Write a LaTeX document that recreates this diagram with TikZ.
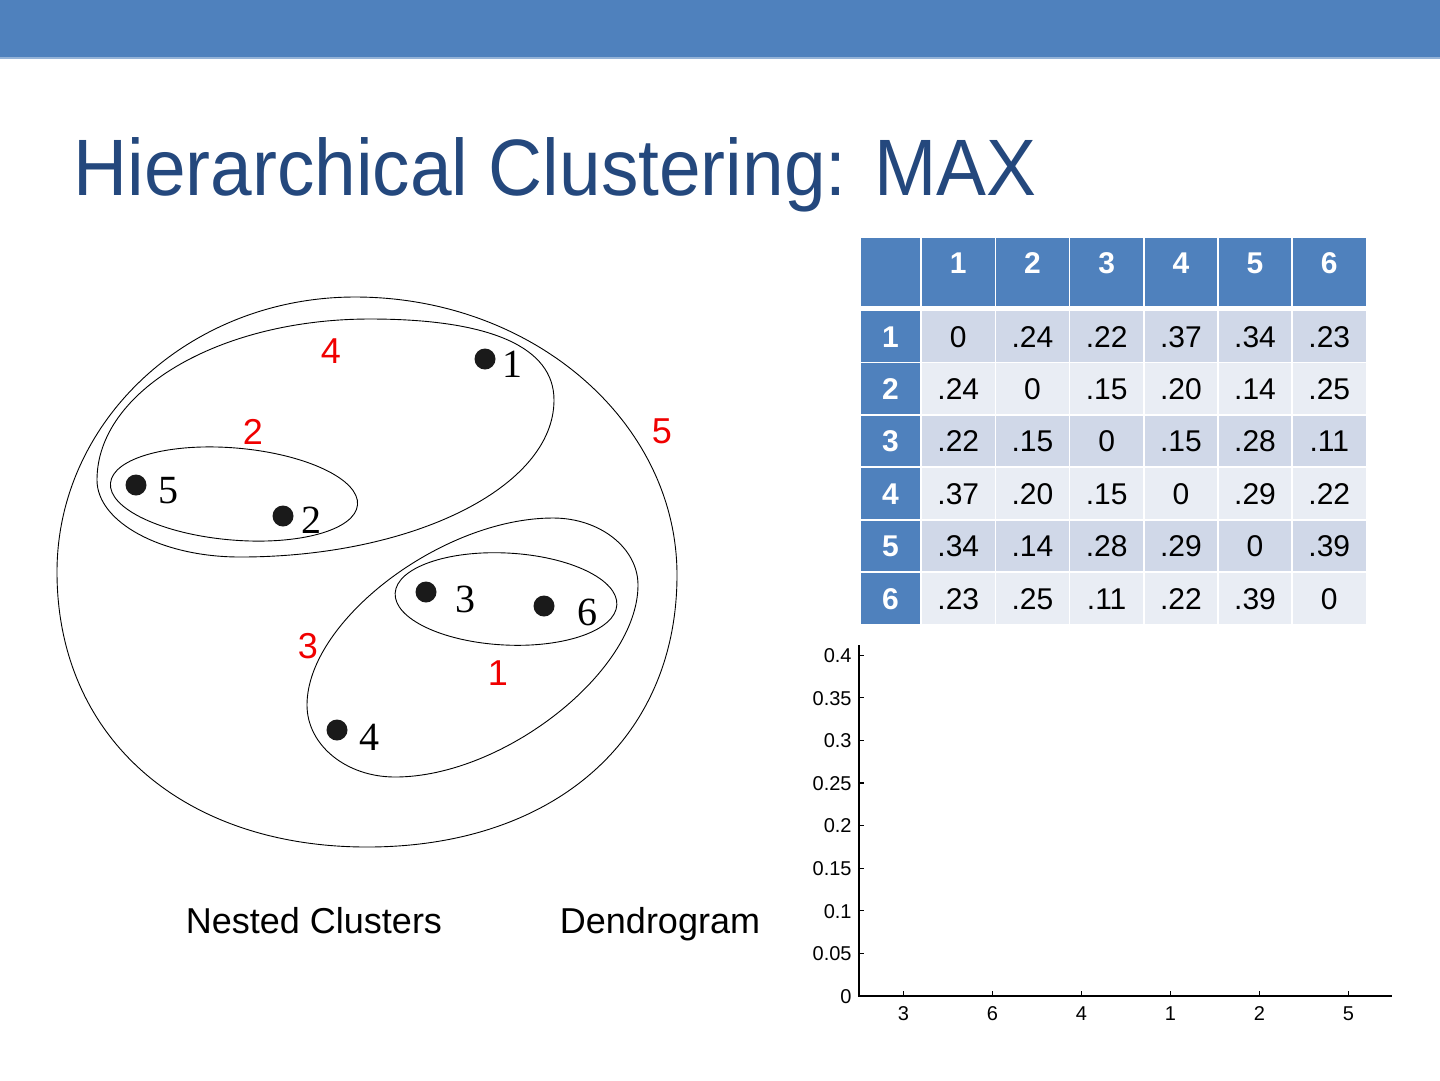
\documentclass[tikz,border=0pt]{standalone}
\usepackage{graphicx}
\usepackage{fontspec}
\setmainfont{Liberation Sans}
\newfontfamily\serifnum{Liberation Serif}
\definecolor{barblue}{RGB}{79,129,189}
\definecolor{barline}{RGB}{149,179,215}
\definecolor{titleblue}{RGB}{36,72,125}
\definecolor{oddrow}{RGB}{208,216,232}
\definecolor{evenrow}{RGB}{233,237,244}
\definecolor{dotblack}{RGB}{26,26,26}
\definecolor{labelred}{RGB}{240,0,0}
\tikzset{
  clusterline/.style={draw=black, line width=0.45bp},
  ptdot/.style={circle, fill=dotblack, inner sep=0, minimum size=10.5bp},
  ptlabel/.style={anchor=base, inner sep=0, font=\serifnum\fontsize{20bp}{24bp}\selectfont},
  redlabel/.style={anchor=base, inner sep=0, text=labelred, font=\fontsize{18bp}{22bp}\selectfont},
  hdr/.style={anchor=base, inner sep=0, text=white, font=\fontsize{15bp}{18bp}\selectfont\bfseries},
  cell/.style={anchor=base, inner sep=0, text=black, font=\fontsize{15bp}{18bp}\selectfont},
  caption/.style={anchor=base, inner sep=0, font=\fontsize{18bp}{22bp}\selectfont},
  axisline/.style={draw=black, line width=0.6bp},
  ticklabel/.style={inner sep=0, font=\fontsize{10bp}{12bp}\selectfont}
}
\begin{document}
\begin{tikzpicture}[x=0.5bp, y=-0.5bp]
\useasboundingbox (0,0) rectangle (1440,1080);
\fill[white] (0,0) rectangle (1440,1080);
% top bar
\fill[barblue] (0,0) rectangle (1440,57);
\fill[barline] (0,57) rectangle (1440,58.5);
% title
\node[anchor=base west, inner sep=0, text=titleblue] (title) at (73,195)
  {\scalebox{0.935}[1]{\fontsize{40bp}{48bp}\selectfont Hierarchical Clustering: MAX}};

% ---------- nested clusters ----------
% cluster 5 (all points)
\draw[clusterline] (57,572) .. controls (57,420) and (190,297) .. (355,297)
  .. controls (533,297) and (677,422) .. (677,575)
  .. controls (677,740) and (553,847) .. (367,847)
  .. controls (182,847) and (57,737) .. (57,572) -- cycle;
% cluster 4 (1,2,5)
\draw[clusterline] (97,480) .. controls (97,391) and (219,319) .. (370,319)
  .. controls (490,319) and (554,347) .. (554,400)
  .. controls (554,487) and (413,557) .. (240,557)
  .. controls (161,557) and (97,522) .. (97,480) -- cycle;
% cluster 2 (2,5)
\draw[clusterline, rotate around={-5:(234,494)}] (234,494) ellipse [x radius=124, y radius=46];
% cluster 3 (3,4,6)
\draw[clusterline] (307,705) .. controls (307,621) and (442,518) .. (553,518)
  .. controls (600,518) and (638,548) .. (638,585)
  .. controls (638,671) and (504,777) .. (395,777)
  .. controls (346,777) and (307,745) .. (307,705) -- cycle;
% cluster 1 (3,6)
\draw[clusterline, rotate around={-3:(506,599)}] (506,599) ellipse [x radius=111, y radius=46];

\node[ptdot] (p1) at (485,359) {};
\node[ptdot] (p5) at (136,485) {};
\node[ptdot] (p2) at (283,516) {};
\node[ptdot] (p3) at (426,592) {};
\node[ptdot] (p6) at (544,606) {};
\node[ptdot] (p4) at (337,730) {};
\node[ptlabel] (l1) at (512,377) {1};
\node[ptlabel] (l5) at (168,503) {5};
\node[ptlabel] (l2) at (311,533) {2};
\node[ptlabel] (l3) at (465,612) {3};
\node[ptlabel] (l6) at (587,625) {6};
\node[ptlabel] (l4) at (369,750) {4};

\node[redlabel] (s4) at (331,363) {4};
\node[redlabel] (s2) at (253,444) {2};
\node[redlabel] (s5) at (662,443) {5};
\node[redlabel] (s3) at (308,658) {3};
\node[redlabel] (s1) at (498,685) {1};

\node[caption] (cap1) at (314,933) {Nested Clusters};
\node[caption] (cap2) at (660,933) {Dendrogram};

% ---------- distance table ----------
\fill[barblue] (861,238) rectangle (920,306);
\foreach \j in {1,...,6}{
  \pgfmathsetmacro\xl{922+74.2*(\j-1)}
  \fill[barblue] (\xl,238) rectangle ++(72.5,68);
  \node[hdr] (h\j) at (\xl+36.25,273) {\j};
}
\foreach \vals [count=\i] in {{0,.24,.22,.37,.34,.23},{.24,0,.15,.20,.14,.25},{.22,.15,0,.15,.28,.11},{.37,.20,.15,0,.29,.22},{.34,.14,.28,.29,0,.39},{.23,.25,.11,.22,.39,0}}{
  \pgfmathsetmacro\yt{311+52.4*(\i-1)}
  \fill[barblue] (861,\yt) rectangle (920,\yt+50.5);
  \node[hdr] (r\i) at (890.5,\yt+36) {\i};
  \pgfmathtruncatemacro\odd{mod(\i,2)}
  \ifnum\odd=1 \def\cellcol{oddrow}\else\def\cellcol{evenrow}\fi
  \foreach \v [count=\j] in \vals {
    \pgfmathsetmacro\xl{922+74.2*(\j-1)}
    \fill[\cellcol] (\xl,\yt) rectangle ++(72.5,50.5);
    \node[cell] (c\i-\j) at (\xl+36.25,\yt+36) {\v};
  }
}

% ---------- dendrogram axes ----------
\coordinate (ytop) at (859,645);
\coordinate (orig) at (859,996);
\coordinate (xend) at (1392,996);
\draw[axisline] (ytop) -- (orig) -- (xend);
\foreach \lab [count=\k from 0] in {0,0.05,0.1,0.15,0.2,0.25,0.3,0.35,0.4}{
  \pgfmathsetmacro\yy{996-42.6*\k}
  \draw[axisline] (859,\yy) -- (864,\yy);
  \node[ticklabel, anchor=base east] (yl\k) at (852,\yy+7.2) {\lab};
}
\foreach \lab [count=\k] in {3,6,4,1,2,5}{
  \pgfmathsetmacro\xx{859+89*(\k-0.5)}
  \draw[axisline] (\xx,996) -- (\xx,991);
  \node[ticklabel, anchor=base] (xl\k) at (\xx,1020) {\lab};
}
\end{tikzpicture}
\end{document}
